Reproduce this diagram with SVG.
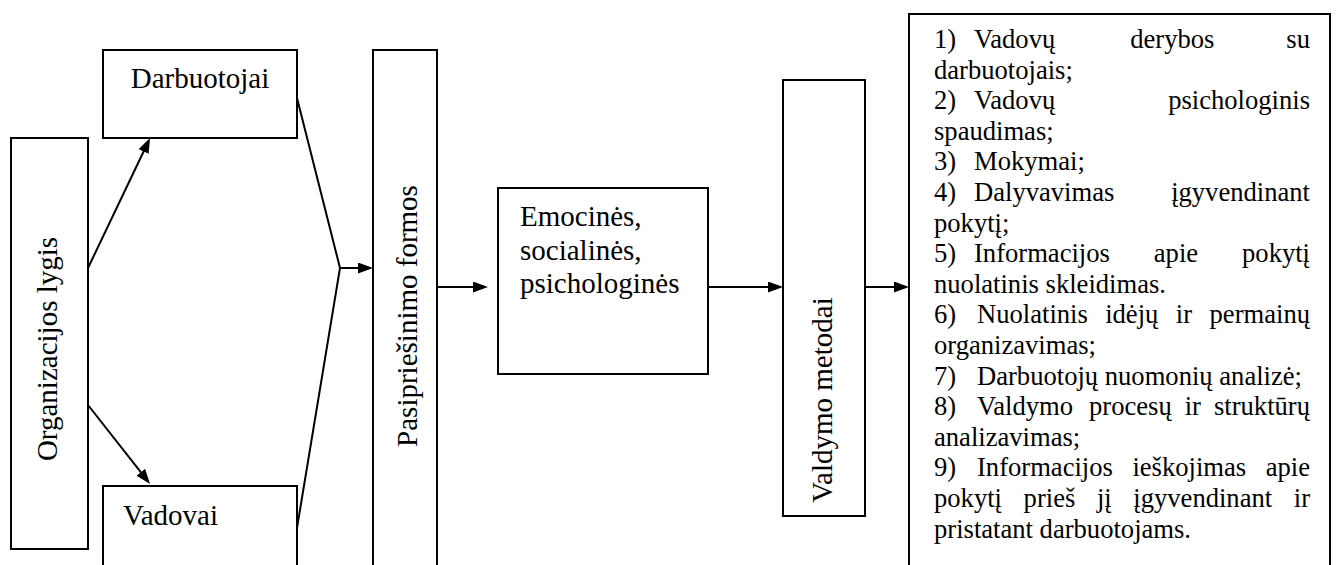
<svg xmlns="http://www.w3.org/2000/svg" width="1336" height="565" viewBox="0 0 1336 565">
  <style>
    .box { fill: #ffffff; stroke: #000000; stroke-width: 2; }
    .wire { fill: none; stroke: #000000; stroke-width: 2; }
    .lbl { font-family: "Liberation Serif", "Times New Roman", serif; font-size: 29px; fill: #000000; }
    .list { font-family: "Liberation Serif", "Times New Roman", serif; font-size: 26.6px; fill: #000000; }
    .end { text-anchor: end; }
  </style>
  <defs>
    <marker id="arrow" markerUnits="userSpaceOnUse" viewBox="0 0 15 11" markerWidth="15" markerHeight="11" refX="7" refY="5.5" orient="auto">
      <path d="M0,0 L15,5.5 L0,11 Z" fill="#000000"/>
    </marker>
  </defs>
  <rect width="1336" height="565" fill="#ffffff"/>

  <!-- connectors -->
  <g id="connectors">
    <line class="wire" x1="88" y1="268" x2="146.6" y2="145.2" marker-end="url(#arrow)"/>
    <line class="wire" x1="88" y1="405" x2="145.1" y2="477.7" marker-end="url(#arrow)"/>
    <polyline class="wire" points="297,98 340,268 297,528"/>
    <line class="wire" x1="340" y1="268" x2="365" y2="268" marker-end="url(#arrow)"/>
    <line class="wire" x1="437" y1="287" x2="480" y2="287" marker-end="url(#arrow)"/>
    <line class="wire" x1="708" y1="287" x2="775" y2="287" marker-end="url(#arrow)"/>
    <line class="wire" x1="865" y1="287" x2="901" y2="287" marker-end="url(#arrow)"/>
  </g>

  <g id="organizacijos-lygis">
    <rect class="box" x="11" y="138" width="77" height="411"/>
    <text class="lbl" transform="translate(57,349) rotate(-90)" text-anchor="middle" font-size="29.5">Organizacijos lygis</text>
  </g>

  <g id="darbuotojai">
    <rect class="box" x="103" y="50" width="194" height="88"/>
    <text class="lbl" x="200" y="88" text-anchor="middle">Darbuotojai</text>
  </g>

  <g id="vadovai">
    <rect class="box" x="103" y="486" width="194" height="100"/>
    <text class="lbl" x="123" y="525">Vadovai</text>
  </g>

  <g id="pasipriesinimo-formos">
    <rect class="box" x="373" y="50" width="64" height="540"/>
    <text class="lbl" transform="translate(417,316) rotate(-90)" text-anchor="middle" font-size="29.5">Pasipriešinimo formos</text>
  </g>

  <g id="emocines">
    <rect class="box" x="498" y="188" width="210" height="186"/>
    <text class="lbl" x="520" y="226">Emocinės,</text>
    <text class="lbl" x="520" y="259.5">socialinės,</text>
    <text class="lbl" x="520" y="293">psichologinės</text>
  </g>

  <g id="valdymo-metodai">
    <rect class="box" x="783" y="80" width="82" height="436"/>
    <text class="lbl" transform="translate(832,400) rotate(-90)" text-anchor="middle">Valdymo metodai</text>
  </g>

  <g id="metodu-sarasas">
    <rect class="box" x="909" y="14" width="421" height="580"/>
    <g class="list">
      <text y="48"><tspan x="934">1)</tspan><tspan x="974">Vadovų</tspan><tspan x="1130.2">derybos</tspan></text>
      <text class="end" x="1310" y="48">su</text>
      <text x="934" y="78.6">darbuotojais;</text>
      <text y="109.2"><tspan x="934">2)</tspan><tspan x="974">Vadovų</tspan></text>
      <text class="end" x="1310" y="109.2">psichologinis</text>
      <text x="934" y="139.8">spaudimas;</text>
      <text y="170.4"><tspan x="934">3)</tspan><tspan x="974">Mokymai;</tspan></text>
      <text y="201"><tspan x="934">4)</tspan><tspan x="974">Dalyvavimas</tspan></text>
      <text class="end" x="1310" y="201">įgyvendinant</text>
      <text x="934" y="231.6">pokytį;</text>
      <text y="262.2"><tspan x="934">5)</tspan><tspan x="974">Informacijos</tspan><tspan x="1153.8">apie</tspan></text>
      <text class="end" x="1310" y="262.2">pokytį</text>
      <text x="934" y="292.8">nuolatinis skleidimas.</text>
      <text y="323.4"><tspan x="934">6)</tspan><tspan x="977">Nuolatinis</tspan><tspan x="1105.2">idėjų</tspan><tspan x="1175.8">ir</tspan></text>
      <text class="end" x="1310" y="323.4">permainų</text>
      <text x="934" y="354">organizavimas;</text>
      <text y="384.6"><tspan x="934">7)</tspan><tspan x="977">Darbuotojų nuomonių analizė;</tspan></text>
      <text y="415.2"><tspan x="934">8)</tspan><tspan x="977">Valdymo</tspan><tspan x="1089">procesų</tspan><tspan x="1184.7">ir</tspan></text>
      <text class="end" x="1310" y="415.2">struktūrų</text>
      <text x="934" y="445.8">analizavimas;</text>
      <text y="476.4"><tspan x="934">9)</tspan><tspan x="977">Informacijos</tspan><tspan x="1132.4">ieškojimas</tspan></text>
      <text class="end" x="1310" y="476.4">apie</text>
      <text y="507"><tspan x="934">pokytį</tspan><tspan x="1023.6">prieš</tspan><tspan x="1096.9">jį</tspan><tspan x="1133.3">įgyvendinant</tspan></text>
      <text class="end" x="1310" y="507">ir</text>
      <text x="934" y="537.6">pristatant darbuotojams.</text>
    </g>
  </g>
</svg>
